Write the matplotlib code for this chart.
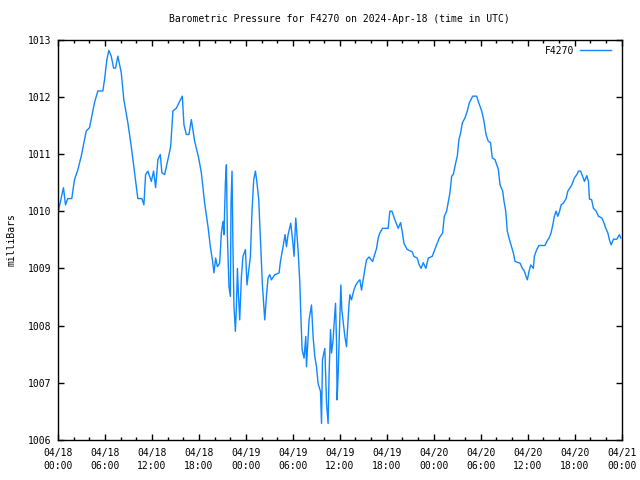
import matplotlib
matplotlib.use("Agg")
import matplotlib.pyplot as plt
from matplotlib.ticker import MultipleLocator

# hours after 2024-04-18 00:00 UTC
hours = [
    0.06, 0.70, 0.96, 1.25, 1.76, 2.11, 2.53, 2.97, 3.61, 4.03, 4.67, 5.09, 5.73, 5.95,
    6.24, 6.50, 6.80, 7.10, 7.35, 7.65, 8.08, 8.41, 8.93, 9.36, 9.78, 10.20, 10.72, 10.97,
    11.19, 11.48, 11.92, 12.21, 12.47, 12.76, 13.07, 13.27, 13.62, 14.04, 14.39, 14.68,
    15.12, 15.54, 15.88, 16.09, 16.39, 16.73, 17.03, 17.46, 17.97, 18.31, 18.73, 19.16,
    19.46, 19.72, 19.92, 20.14, 20.36, 20.65, 20.87, 21.07, 21.20, 21.38, 21.51, 21.64,
    21.84, 22.02, 22.10, 22.23, 22.35, 22.48, 22.66, 22.79, 22.92, 23.04, 23.21, 23.43,
    23.63, 23.94, 24.14, 24.58, 24.78, 25.00, 25.22, 25.42, 25.64, 25.86, 26.11, 26.41,
    26.62, 26.83, 27.05, 27.26, 27.69, 28.24, 28.41, 28.75, 29.00, 29.18, 29.39, 29.73,
    30.03, 30.15, 30.37, 30.66, 30.88, 31.01, 31.18, 31.43, 31.65, 31.74, 32.07, 32.38,
    32.58, 32.80, 33.02, 33.22, 33.53, 33.66, 33.78, 34.08, 34.30, 34.50, 34.63, 34.81,
    34.94, 35.14, 35.27, 35.45, 35.58, 35.65, 35.78, 36.13, 36.25, 36.64, 36.85, 37.15,
    37.28, 37.49, 37.79, 38.04, 38.34, 38.56, 38.77, 39.19, 39.41, 39.74, 40.18, 40.69,
    40.90, 41.11, 41.46, 42.17, 42.39, 42.65, 43.03, 43.45, 43.76, 43.96, 44.18, 44.60,
    45.24, 45.46, 45.88, 46.14, 46.39, 46.65, 46.99, 47.29, 47.80, 48.27, 48.70, 49.13,
    49.34, 49.64, 50.06, 50.28, 50.49, 50.79, 51.00, 51.21, 51.43, 51.64, 51.98, 52.28,
    52.53, 52.97, 53.48, 53.68, 54.12, 54.41, 54.67, 54.96, 55.24, 55.47, 55.82, 56.24,
    56.46, 56.80, 56.97, 57.19, 57.39, 57.61, 57.86, 58.16, 58.38, 59.02, 59.31, 59.57,
    59.78, 59.95, 60.17, 60.38, 60.72, 60.84, 61.15, 61.44, 62.21, 62.43, 62.72, 62.98,
    63.20, 63.40, 63.62, 63.84, 64.07, 64.26, 64.55, 64.90, 65.12, 65.41, 65.63, 65.96,
    66.27, 66.47, 66.75, 66.98, 67.24, 67.54, 67.75, 67.88, 68.16, 68.39, 68.73, 69.03,
    69.46, 69.67, 69.97, 70.23, 70.43, 70.65, 70.95, 71.38, 71.71, 71.89,
]

pressure = [
    1010.01, 1010.41, 1010.11, 1010.22, 1010.22, 1010.55, 1010.72, 1010.96, 1011.40, 1011.46,
    1011.90, 1012.10, 1012.10, 1012.30, 1012.65, 1012.81, 1012.71, 1012.50, 1012.50, 1012.71,
    1012.42, 1011.95, 1011.54, 1011.13, 1010.67, 1010.22, 1010.22, 1010.11, 1010.64, 1010.70,
    1010.52, 1010.70, 1010.41, 1010.90, 1010.99, 1010.67, 1010.64, 1010.90, 1011.13, 1011.75,
    1011.80, 1011.92, 1012.01, 1011.51, 1011.34, 1011.34, 1011.60, 1011.22, 1010.93, 1010.67,
    1010.14, 1009.73, 1009.38, 1009.15, 1008.92, 1009.18, 1009.03, 1009.09, 1009.62, 1009.82,
    1009.59, 1010.49, 1010.81, 1009.56, 1008.68, 1008.51, 1010.14, 1010.70, 1009.33, 1008.33,
    1007.90, 1008.33, 1009.00, 1008.57, 1008.10, 1008.86, 1009.21, 1009.33, 1008.71, 1009.21,
    1010.00, 1010.55, 1010.70, 1010.49, 1010.20, 1009.50, 1008.71, 1008.10, 1008.51, 1008.83,
    1008.89, 1008.80, 1008.89, 1008.92, 1009.12, 1009.38, 1009.59, 1009.38, 1009.59, 1009.79,
    1009.41, 1009.21, 1009.88, 1009.33, 1008.77, 1008.22, 1007.58, 1007.43, 1007.81, 1007.28,
    1008.10, 1008.36, 1007.81, 1007.46, 1007.28, 1006.99, 1006.85, 1006.29, 1007.40, 1007.60,
    1006.64, 1006.29, 1007.17, 1007.93, 1007.52, 1007.75, 1008.04, 1008.39, 1007.69, 1006.70,
    1007.14, 1008.71, 1008.28, 1007.81, 1007.63, 1008.33, 1008.54, 1008.45, 1008.62, 1008.71,
    1008.77, 1008.80, 1008.62, 1008.98, 1009.15, 1009.20, 1009.12, 1009.35, 1009.53, 1009.62,
    1009.70, 1009.70, 1010.00, 1010.00, 1009.85, 1009.70, 1009.80, 1009.65, 1009.44, 1009.33,
    1009.29, 1009.21, 1009.18, 1009.06, 1009.00, 1009.10, 1009.00, 1009.18, 1009.21, 1009.38,
    1009.53, 1009.62, 1009.91, 1010.00, 1010.32, 1010.61, 1010.64, 1010.84, 1010.96, 1011.25,
    1011.37, 1011.54, 1011.63, 1011.75, 1011.89, 1012.01, 1012.01, 1011.92, 1011.75, 1011.57,
    1011.34, 1011.22, 1011.20, 1010.93, 1010.90, 1010.73, 1010.46, 1010.35, 1010.17, 1010.00,
    1009.65, 1009.53, 1009.41, 1009.27, 1009.12, 1009.09, 1009.00, 1008.95, 1008.86, 1008.80,
    1008.95, 1009.06, 1009.00, 1009.21, 1009.33, 1009.40, 1009.40, 1009.47, 1009.53, 1009.62,
    1009.76, 1009.91, 1010.00, 1009.91, 1010.00, 1010.11, 1010.14, 1010.22, 1010.35, 1010.41,
    1010.46, 1010.58, 1010.64, 1010.70, 1010.70, 1010.62, 1010.52, 1010.62, 1010.52, 1010.21,
    1010.20, 1010.05, 1010.00, 1009.91, 1009.88, 1009.82, 1009.70, 1009.62, 1009.50, 1009.41,
    1009.51, 1009.51, 1009.59, 1009.53,
]

xtick_hours = [0, 6, 12, 18, 24, 30, 36, 42, 48, 54, 60, 66, 72]
xtick_labels = ["04/18\n00:00", "04/18\n06:00", "04/18\n12:00", "04/18\n18:00",
                "04/19\n00:00", "04/19\n06:00", "04/19\n12:00", "04/19\n18:00",
                "04/20\n00:00", "04/20\n06:00", "04/20\n12:00", "04/20\n18:00",
                "04/21\n00:00"]
yticks = [1006, 1007, 1008, 1009, 1010, 1011, 1012, 1013]

plt.rcParams['font.family'] = 'DejaVu Sans Mono'
plt.rcParams['font.size'] = 7

fig = plt.figure(figsize=(6.4, 4.8), dpi=100)
ax = fig.add_axes([0.0906, 0.0833, 0.8808, 0.8344])

ax.plot(hours, pressure, color='#0f87ff', linewidth=1, label='F4270')

ax.set_xlim(0, 72)
ax.set_ylim(1006, 1013)
ax.set_xticks(xtick_hours)
ax.set_xticklabels(xtick_labels, linespacing=1.35)
ax.xaxis.set_minor_locator(MultipleLocator(2))
ax.set_yticks(yticks)
ax.set_yticklabels([str(v) for v in yticks])

ax.tick_params(which='major', direction='in', length=4, width=1, top=True, right=True)
ax.tick_params(which='minor', direction='in', length=2.5, width=1, top=True, right=True)
ax.tick_params(axis='x', which='major', pad=6)
ax.tick_params(axis='y', which='major', pad=5)
for s in ax.spines.values():
    s.set_linewidth(1)

ax.set_ylabel('milliBars', labelpad=8)
fig.text(0.531, 0.96, 'Barometric Pressure for F4270 on 2024-Apr-18 (time in UTC)',
         ha='center', va='center')

ax.legend(loc='upper right', bbox_to_anchor=(0.99, 0.997), frameon=False,
          markerfirst=False, handlelength=3.2, borderpad=0, handletextpad=0.6)

fig.savefig('out.png', dpi=100)
